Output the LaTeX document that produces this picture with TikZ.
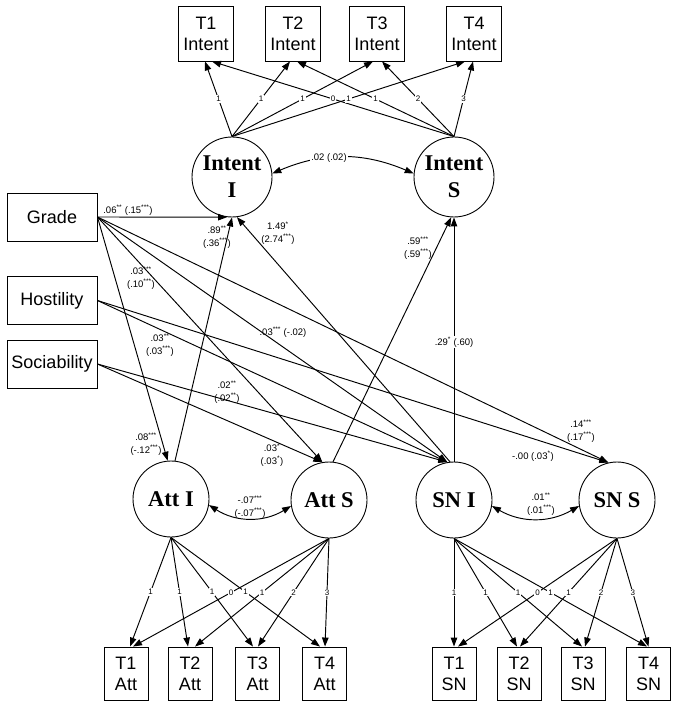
\documentclass[tikz,border=0pt]{standalone}
\usepackage{fontspec}
\setmainfont{Liberation Serif}
\setsansfont{Liberation Sans}
\usetikzlibrary{arrows.meta,calc}
\newcommand\sg[1]{\textsuperscript{#1}}
\begin{document}
\begin{tikzpicture}[x=1pt,y=-1pt,
 obs/.style={draw, line width=0.9pt, inner sep=0pt, align=center, font=\sffamily\fontsize{18}{21}\selectfont},
 lat/.style={draw, circle, line width=0.9pt, inner sep=0pt, align=center, font=\rmfamily\bfseries\fontsize{22.5}{27}\selectfont},
 arr/.style={-{Triangle[length=9pt,width=6.5pt]}, line width=0.95pt},
 dbl/.style={{Triangle[length=9pt,width=6.5pt]}-{Triangle[length=9pt,width=6.5pt]}, line width=0.95pt},
 lbl/.style={font=\sffamily\fontsize{9.5}{12.5}\selectfont, inner sep=1pt, align=center},
 ld/.style={font=\sffamily\fontsize{8}{9}\selectfont, fill=white, inner sep=0.8pt},
]
\useasboundingbox (0,0) rectangle (673,703);

% observed intent boxes
\node[obs, minimum width=55pt, minimum height=55pt] (ti1) at (206,33.5) {T1\\Intent};
\node[obs, minimum width=55pt, minimum height=55pt] (ti2) at (293,33.5) {T2\\Intent};
\node[obs, minimum width=55pt, minimum height=55pt] (ti3) at (377,33.5) {T3\\Intent};
\node[obs, minimum width=55pt, minimum height=55pt] (ti4) at (474,33.5) {T4\\Intent};

% latent intent
\node[lat, minimum size=80pt] (intI) at (232,177) {Intent\\I};
\node[lat, minimum size=80pt] (intS) at (454,177) {Intent\\S};

% predictors
\node[obs, minimum width=90pt, minimum height=48pt] (grade) at (52,217) {Grade};
\node[obs, minimum width=90pt, minimum height=48pt] (host) at (52,300.5) {Hostility};
\node[obs, minimum width=90pt, minimum height=48pt] (soc) at (52,364) {Sociability};

% latent att / sn
\node[lat, minimum size=76pt] (attI) at (171,499) {Att I};
\node[lat, minimum size=76pt] (attS) at (329,500) {Att S};
\node[lat, minimum size=76pt] (snI) at (454,500) {SN I};
\node[lat, minimum size=76pt] (snS) at (617,500) {SN S};

% bottom boxes
\node[obs, minimum width=44pt, minimum height=53pt] (ta1) at (126,673.5) {T1\\Att};
\node[obs, minimum width=44pt, minimum height=53pt] (ta2) at (190,673.5) {T2\\Att};
\node[obs, minimum width=44pt, minimum height=53pt] (ta3) at (257.5,673.5) {T3\\Att};
\node[obs, minimum width=44pt, minimum height=53pt] (ta4) at (324.5,673.5) {T4\\Att};
\node[obs, minimum width=44pt, minimum height=53pt] (ts1) at (454,673.5) {T1\\SN};
\node[obs, minimum width=44pt, minimum height=53pt] (ts2) at (519,673.5) {T2\\SN};
\node[obs, minimum width=44pt, minimum height=53pt] (ts3) at (583,673.5) {T3\\SN};
\node[obs, minimum width=44pt, minimum height=53pt] (ts4) at (648.5,673.5) {T4\\SN};

% loadings intent
\foreach \b/\di/\ds/\vs in {ti1/-1/6/0, ti2/-3/4/1, ti3/-4/5/2, ti4/-9/-1/3} {
  \draw[arr] (intI.north) -- ([xshift=\di pt]\b.south) node[ld,pos=.5]{1};
  \draw[arr] (intS.north) -- ([xshift=\ds pt]\b.south) node[ld,pos=.5]{\vs};
}
% loadings att
\foreach \b/\di/\ds/\vs in {ta1/4/7/0, ta2/-2/5/1, ta3/-4.5/0.5/2, ta4/-4.5/0.5/3} {
  \draw[arr] (attI.south) -- ([xshift=\di pt]\b.north) node[ld,pos=.5]{1};
  \draw[arr] (attS.south) -- ([xshift=\ds pt]\b.north) node[ld,pos=.5]{\vs};
}
% loadings sn
\foreach \b/\di/\ds/\vs in {ts1/0/4/0, ts2/-2/1/1, ts3/-1/2/2, ts4/-1.5/0/3} {
  \draw[arr] (snI.south) -- ([xshift=\di pt]\b.north) node[ld,pos=.5]{1};
  \draw[arr] (snS.south) -- ([xshift=\ds pt]\b.north) node[ld,pos=.5]{\vs};
}

% predictor paths
\draw[arr] (grade.east) -- (intI.-97);
\draw[arr] (grade.east) -- (attI.95);
\draw[arr] (grade.east) -- (attS.100);
\draw[arr] (grade.east) -- (snI.100);
\draw[arr] (grade.east) -- (snS.103);
\draw[arr] (host.east) -- (snI.100);
\draw[arr] (host.east) -- (snS.103);
\draw[arr] (soc.east) -- (attS.100);
\draw[arr] (soc.east) -- (snI.100);

% latent regressions
\draw[arr] (attI.84) -- (intI.-90);
\draw[arr] (snI.96) -- (intI.-83);
\draw[arr] (attS.84) -- (intS.-94);
\draw[arr] (snI.north) -- (intS.south) node[lbl, fill=white, pos=.49] (l29) {.29\sg{*} (.60)};

% covariances
\draw[dbl] (intI.5) to[bend left=23] (intS.175);
\node[lbl, fill=white] (c1) at (329,158) {.02 (.02)};
\draw[dbl] (attI.-9) to[bend right=32] (attS.189);
\node[lbl] (c2) at (250,507) {-.07\sg{***}\\(-.07\sg{***})};
\draw[dbl] (snI.-9) to[bend right=30] (snS.189);
\node[lbl] (c3) at (541,504) {.01\sg{**}\\(.01\sg{***})};

% path labels
\node[lbl] (p1) at (128,210) {.06\sg{**} (.15\sg{***})};
\node[lbl] (p2) at (141,278) {.03\sg{***}\\(.10\sg{***})};
\node[lbl] (p3) at (160,345) {.03\sg{**}\\(.03\sg{***})};
\node[lbl] (p4) at (283,332) {.03\sg{***} (-.02)};
\node[lbl] (p5) at (227,392) {.02\sg{**}\\(.02\sg{**})};
\node[lbl] (p6) at (146,444) {.08\sg{***}\\(-.12\sg{***})};
\node[lbl] (p7) at (272,455) {.03\sg{*}\\(.03\sg{*})};
\node[lbl] (p8) at (581,431) {.14\sg{***}\\(.17\sg{***})};
\node[lbl] (p9) at (533,456) {-.00 (.03\sg{*})};
\node[lbl] (p10) at (217,237) {.89\sg{**}\\(.36\sg{***})};
\node[lbl] (p11) at (278,233) {1.49\sg{*}\\(2.74\sg{***})};
\node[lbl] (p12) at (418,248) {.59\sg{***}\\(.59\sg{***})};
\end{tikzpicture}
\end{document}
